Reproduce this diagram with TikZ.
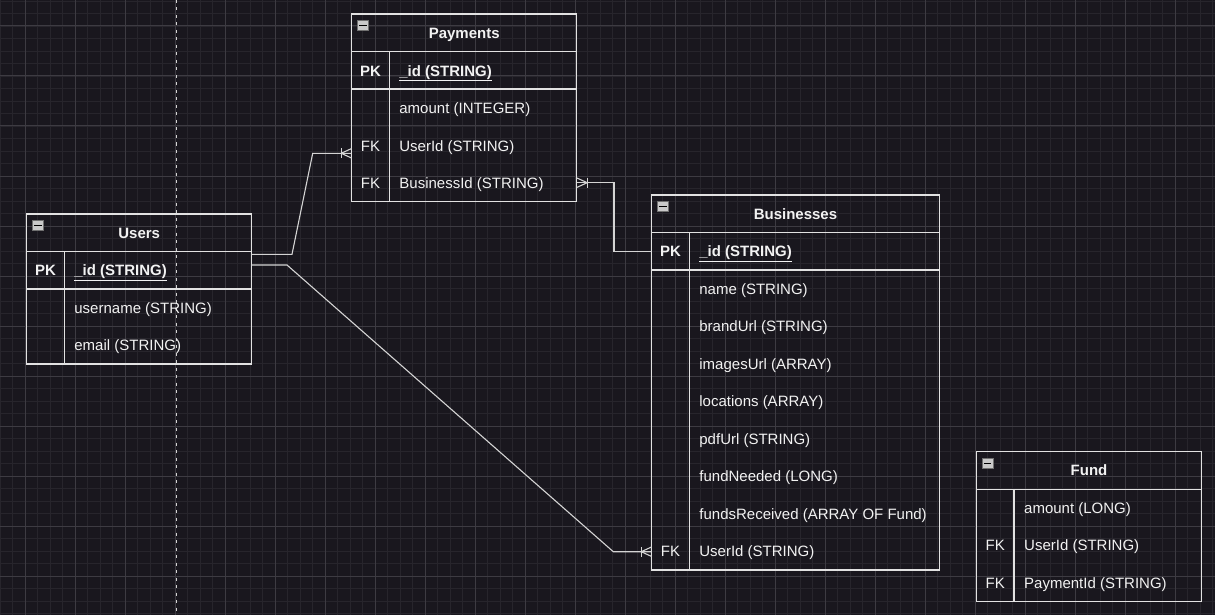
\documentclass[tikz,border=0pt]{standalone}
\usepackage{fontspec}
\setmainfont{Liberation Sans}
\usetikzlibrary{calc}
\definecolor{bgc}{HTML}{19171E}
\definecolor{minorc}{HTML}{27252C}
\definecolor{majorc}{HTML}{3D3B42}
\definecolor{linec}{HTML}{E2E2E2}
\definecolor{connc}{HTML}{D4D4D4}
\definecolor{textc}{HTML}{F2F2F2}
\definecolor{iconfill}{HTML}{C9C9C9}
\definecolor{iconedge}{HTML}{707070}
\newcommand\erentity[7]{% name, x, y, width, rows, title, has PK row
  \node[entity, minimum width=#4, minimum height={37.5*(#5+1)}, anchor=north west] (#1) at (#2,#3) {};
  \draw[entline] (#2,{#3+37.5}) -- ({#2+#4},{#3+37.5});
  \draw[entline] ({#2+37.5},{#3+37.5}) -- ({#2+37.5},{#3+37.5*(#5+1)});
  \ifnum#7=1 \draw[entline] (#2,{#3+75}) -- ({#2+#4},{#3+75});\fi
  \node[titletext] (#1-title) at ({#2+#4/2},{#3+18.75}) {#6};
  \node[minusicon] (#1-icon) at ({#2+11.2},{#3+11.4}) {};
  \draw[black, line width=1.1pt] ({#2+7.6},{#3+11.4}) -- ({#2+14.8},{#3+11.4});
}
\begin{document}
\begin{tikzpicture}[x=1pt,y=-1pt,
  minorgrid/.style={draw=minorc, line width=0.9pt},
  majorgrid/.style={draw=majorc, line width=1pt},
  entity/.style={draw=linec, line width=1.2pt, rectangle, inner sep=0pt, outer sep=0pt},
  entline/.style={draw=linec, line width=1.2pt},
  titletext/.style={text=textc, font=\fontsize{15}{18}\selectfont\bfseries, inner sep=0pt, text height=10.7pt, text depth=0pt, anchor=center},
  field/.style={text=textc, font=\fontsize{15}{18}\selectfont, inner sep=0pt, text height=10.7pt, text depth=0pt, anchor=west},
  fieldb/.style={field, font=\fontsize{15}{18}\selectfont\bfseries},
  key/.style={text=textc, font=\fontsize{15}{18}\selectfont, inner sep=0pt, text height=10.7pt, text depth=0pt, anchor=center},
  keyb/.style={key, font=\fontsize{15}{18}\selectfont\bfseries},
  minusicon/.style={draw=iconedge, fill=iconfill, line width=0.8pt, minimum width=10.5pt, minimum height=10pt, inner sep=0pt},
  conn/.style={draw=connc, line width=1.1pt},
  pagebreak/.style={draw=connc, line width=1.2pt, dash pattern=on 3pt off 4.5pt},
  crowmany/.pic={\draw[conn] (-10.5,-4.8) -- (-10.5,4.8); \draw[conn] (0,-4.8) -- (-10.5,0) -- (0,4.8);}
]
\useasboundingbox (0,0) rectangle (1215,615);
\fill[bgc] (0,0) rectangle (1215,615);
% grid
\foreach \i in {0,...,97} \draw[minorgrid] ({0.3+12.5*\i},0) -- ({0.3+12.5*\i},615);
\foreach \j in {0,...,49} \draw[minorgrid] (0,{1+12.5*\j}) -- (1215,{1+12.5*\j});
\foreach \i in {0,...,24} \draw[majorgrid] ({25.3+50*\i},0) -- ({25.3+50*\i},615);
\foreach \j in {0,...,12} \draw[majorgrid] (0,{26+50*\j}) -- (1215,{26+50*\j});
% page break line
\draw[pagebreak] (176.7,0) -- (176.7,615);

% Payments
\erentity{pay}{351.7}{14}{225}{4}{Payments}{1}
\node[keyb] (pay-k0) at (370.45,70.75) {PK};
\node[fieldb] (pay-f0) at (399.2,70.75) {\underline{\_id (STRING)}};
\node[field] (pay-f1) at (399.2,108.25) {amount (INTEGER)};
\node[key] (pay-k2) at (370.45,145.75) {FK};
\node[field] (pay-f2) at (399.2,145.75) {UserId (STRING)};
\node[key] (pay-k3) at (370.45,183.25) {FK};
\node[field] (pay-f3) at (399.2,183.25) {BusinessId (STRING)};

% Users
\erentity{usr}{26.7}{214}{225}{3}{Users}{1}
\node[keyb] (usr-k0) at (45.45,270.25) {PK};
\node[fieldb] (usr-f0) at (74.2,270.25) {\underline{\_id (STRING)}};
\node[field] (usr-f1) at (74.2,307.75) {username (STRING)};
\node[field] (usr-f2) at (74.2,345.25) {email (STRING)};

% Businesses
\erentity{bus}{651.7}{195}{287.5}{9}{Businesses}{1}
\node[keyb] (bus-k0) at (670.45,251.25) {PK};
\node[fieldb] (bus-f0) at (699.2,251.25) {\underline{\_id (STRING)}};
\node[field] (bus-f1) at (699.2,288.75) {name (STRING)};
\node[field] (bus-f2) at (699.2,326.25) {brandUrl (STRING)};
\node[field] (bus-f3) at (699.2,363.75) {imagesUrl (ARRAY)};
\node[field] (bus-f4) at (699.2,401.25) {locations (ARRAY)};
\node[field] (bus-f5) at (699.2,438.75) {pdfUrl (STRING)};
\node[field] (bus-f6) at (699.2,476.25) {fundNeeded (LONG)};
\node[field] (bus-f7) at (699.2,513.75) {fundsReceived (ARRAY OF Fund)};
\node[key] (bus-k8) at (670.45,551.25) {FK};
\node[field] (bus-f8) at (699.2,551.25) {UserId (STRING)};

% Fund
\erentity{fund}{976.5}{451.7}{225}{3}{Fund}{0}
\node[field] (fund-f0) at (1024,507.95) {amount (LONG)};
\node[key] (fund-k1) at (995.25,545.45) {FK};
\node[field] (fund-f1) at (1024,545.45) {UserId (STRING)};
\node[key] (fund-k2) at (995.25,582.95) {FK};
\node[field] (fund-f2) at (1024,582.95) {PaymentId (STRING)};

% connectors
\coordinate (c1s) at (251.7,254.3);
\coordinate (c1a) at (292,254.3);
\coordinate (c1b) at (312.7,153.3);
\coordinate (c1e) at (351.7,153.3);
\draw[conn] (c1s) -- (c1a) -- (c1b) -- (c1e);
\pic at (c1e) {crowmany};

\coordinate (c2s) at (576.7,182.7);
\coordinate (c2a) at (614,182.7);
\coordinate (c2b) at (614,251.7);
\coordinate (c2e) at (651.7,251.7);
\draw[conn] (c2s) -- (c2a) -- (c2b) -- (c2e);
\pic[xscale=-1] at (c2s) {crowmany};

\coordinate (c3s) at (251.7,265);
\coordinate (c3a) at (287,265);
\coordinate (c3b) at (613.3,551.7);
\coordinate (c3e) at (651.7,551.7);
\draw[conn] (c3s) -- (c3a) -- (c3b) -- (c3e);
\pic at (c3e) {crowmany};
\end{tikzpicture}
\end{document}
